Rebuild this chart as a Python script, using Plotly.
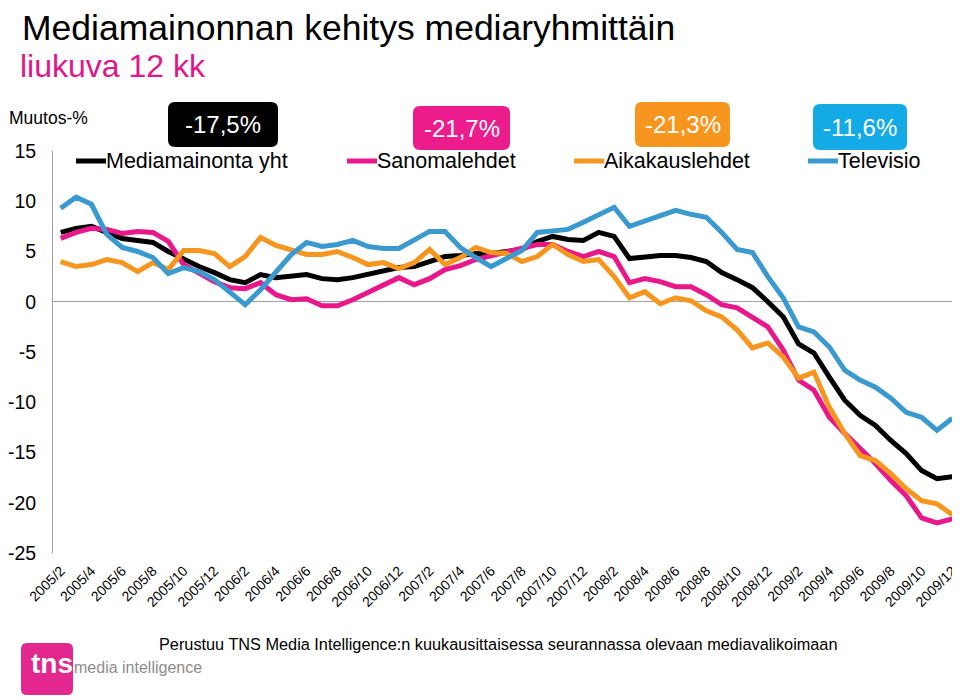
import plotly.graph_objects as go

# ---------------- data ----------------
months = [f"{y}/{m}" for y in range(2005, 2010) for m in range(1, 13)][1:]  # 2005/2 .. 2009/12
tick_labels = months[::2]

series_names = ["Mediamainonta yht", "Sanomalehdet", "Aikakauslehdet", "Televisio"]
last_values = ["-17,5%", "-21,7%", "-21,3%", "-11,6%"]

mediamainonta = [6.9, 7.3, 7.5, 6.9, 6.3, 6.1, 5.9, 5.0, 4.2, 3.5, 2.9, 2.2, 1.9, 2.7, 2.4, 2.5, 2.7, 2.3,
                 2.2, 2.4, 2.7, 3.0, 3.4, 3.5, 4.0, 4.5, 4.6, 4.8, 4.8, 5.0, 5.2, 6.0, 6.5, 6.2, 6.1, 6.9,
                 6.5, 4.3, 4.5, 4.6, 4.6, 4.4, 4.0, 2.9, 2.2, 1.4, 0.0, -1.5, -4.2, -5.1, -7.5, -9.8,
                 -11.3, -12.3, -13.8, -15.1, -16.8, -17.6, -17.4]
sanomalehdet = [6.3, 6.9, 7.3, 7.2, 6.8, 7.0, 6.9, 6.0, 3.7, 2.9, 2.0, 1.4, 1.3, 1.9, 0.7, 0.2, 0.3, -0.4,
                -0.4, 0.2, 0.9, 1.7, 2.4, 1.7, 2.3, 3.2, 3.6, 4.2, 4.6, 5.0, 5.3, 5.7, 5.7, 5.0, 4.5, 5.0,
                4.5, 1.9, 2.3, 2.0, 1.5, 1.5, 0.7, -0.3, -0.6, -1.5, -2.5, -4.8, -7.8, -8.8, -11.5, -13.1,
                -14.6, -16.1, -17.8, -19.3, -21.5, -22.0, -21.6]
aikakauslehdet = [4.0, 3.5, 3.7, 4.2, 3.9, 3.0, 3.9, 3.2, 5.1, 5.1, 4.8, 3.5, 4.5, 6.4, 5.6, 5.2, 4.7, 4.7,
                  5.0, 4.4, 3.7, 3.9, 3.3, 3.9, 5.2, 3.7, 4.4, 5.4, 4.9, 4.8, 4.0, 4.5, 5.7, 4.7, 4.0, 4.2,
                  2.5, 0.4, 1.0, -0.2, 0.4, 0.1, -0.9, -1.5, -2.8, -4.6, -4.1, -5.5, -7.6, -7.0, -10.5,
                  -13.1, -15.3, -15.8, -17.1, -18.6, -19.8, -20.1, -21.2]
televisio = [9.3, 10.4, 9.7, 6.7, 5.4, 5.0, 4.4, 2.8, 3.4, 3.0, 2.2, 1.0, -0.3, 1.2, 2.9, 4.7, 5.9, 5.5,
             5.7, 6.1, 5.5, 5.3, 5.3, 6.2, 7.0, 7.0, 5.4, 4.4, 3.5, 4.3, 5.1, 6.9, 7.1, 7.2, 7.9, 8.7,
             9.4, 7.5, 8.0, 8.5, 9.1, 8.7, 8.4, 6.9, 5.2, 4.9, 2.5, 0.4, -2.5, -3.0, -4.5, -6.8, -7.8,
             -8.5, -9.6, -11.0, -11.5, -12.8, -11.6]

y_ticks = [15, 10, 5, 0, -5, -10, -15, -20, -25]

# ---------------- styles ----------------
line_colors = ["#000000", "#E8178A", "#F7961E", "#3A9AD0"]
box_colors = ["#000000", "#EC1C8C", "#F7961E", "#14AAE6"]
FONT = "Liberation Sans, Arial, Helvetica, sans-serif"

# page body has an 8px margin, so the figure is 8px smaller than the window
W, H = 952, 692
L, R, T, B = 45, 0, 143, 147
PW, PH = W - L - R, H - T - B
SCR_LEFT, SCR_BOTTOM = 53, 553  # plot area edges in screen pixels


def px(x):
    return (x - SCR_LEFT) / PW


def py(y):
    return (SCR_BOTTOM - y) / PH


fig = go.Figure()
for name, vals, col in zip(series_names, [mediamainonta, sanomalehdet, aikakauslehdet, televisio], line_colors):
    fig.add_trace(go.Scatter(x=months, y=vals, mode="lines", name=name,
                             line=dict(color=col, width=5), showlegend=False))

shapes = []
annotations = []


def rounded_rect(x0, y0, x1, y1, r, color):
    X0, X1 = px(x0), px(x1)
    Y0, Y1 = py(y0), py(y1)
    rx, ry = r / PW, r / PH
    path = (f"M {X0+rx},{Y0} L {X1-rx},{Y0} Q {X1},{Y0} {X1},{Y0-ry} "
            f"L {X1},{Y1+ry} Q {X1},{Y1} {X1-rx},{Y1} L {X0+rx},{Y1} "
            f"Q {X0},{Y1} {X0},{Y1+ry} L {X0},{Y0-ry} Q {X0},{Y0} {X0+rx},{Y0} Z")
    return dict(type="path", xref="paper", yref="paper", path=path,
                fillcolor=color, line=dict(width=0), layer="above")


def text(x, y, s, size, color="#000000", xanchor="left", family=FONT):
    annotations.append(dict(x=px(x), y=py(y), xref="paper", yref="paper", text=s, showarrow=False,
                            xanchor=xanchor, yanchor="middle",
                            font=dict(family=family, size=size, color=color)))


# titles
text(20, 27.5, "Mediamainonnan kehitys mediaryhmittäin", 35.5)
text(18, 66, "liukuva 12 kk", 32, color="#E0168A")
text(7, 117.5, "Muutos-%", 17.5)

# legend + value boxes
legend_line_x = [76, 347, 574, 808]
boxes = [(168, 102, 278, 147), (413, 106, 510, 150), (635, 102, 730, 147), (813, 104, 907, 150)]
for i in range(4):
    lx = legend_line_x[i]
    shapes.append(dict(type="line", xref="paper", yref="paper", x0=px(lx), x1=px(lx + 30),
                       y0=py(161), y1=py(161), line=dict(color=line_colors[i], width=5)))
    text(lx + 28, 161, series_names[i], 21.5)
    bx0, by0, bx1, by1 = boxes[i]
    shapes.append(rounded_rect(bx0, by0, bx1, by1, 7, box_colors[i]))
    text((bx0 + bx1) / 2, (by0 + by1) / 2 + 0.5, last_values[i], 24, color="#FFFFFF", xanchor="center")

# footer
text(157, 644, "Perustuu TNS Media Intelligence:n kuukausittaisessa seurannassa olevaan mediavalikoimaan", 16.3)
shapes.append(rounded_rect(21, 643, 73, 695, 6, "#E2278E"))
text(29, 663, "<b>tns</b>", 28, color="#FFFFFF")
text(72, 667, "media intelligence", 16, color="#8C8C8C")

fig.update_layout(
    width=W, height=H,
    margin=dict(l=L, r=R, t=T, b=B, autoexpand=False),
    paper_bgcolor="#FFFFFF", plot_bgcolor="#FFFFFF",
    font=dict(family=FONT, color="#000000"),
    shapes=shapes, annotations=annotations,
    xaxis=dict(type="category", categoryorder="array", categoryarray=months,
               range=[-0.5, len(months) - 0.5], tickvals=tick_labels, ticktext=tick_labels,
               tickangle=-45, tickfont=dict(size=14, family=FONT, color="#000000"),
               showgrid=False, zeroline=False, showline=False, ticks="", ticklabelstandoff=6,
               automargin=False),
    yaxis=dict(range=[-25, 15], tickvals=y_ticks, ticktext=[str(v) for v in y_ticks],
               tickfont=dict(size=19.5, family=FONT, color="#000000"),
               showgrid=False, zeroline=True, zerolinecolor="#A0A0A0", zerolinewidth=1,
               showline=True, linecolor="#A0A0A0", linewidth=1, ticks="", ticklabelstandoff=12,
               automargin=False),
)

fig.write_html("out.html")
